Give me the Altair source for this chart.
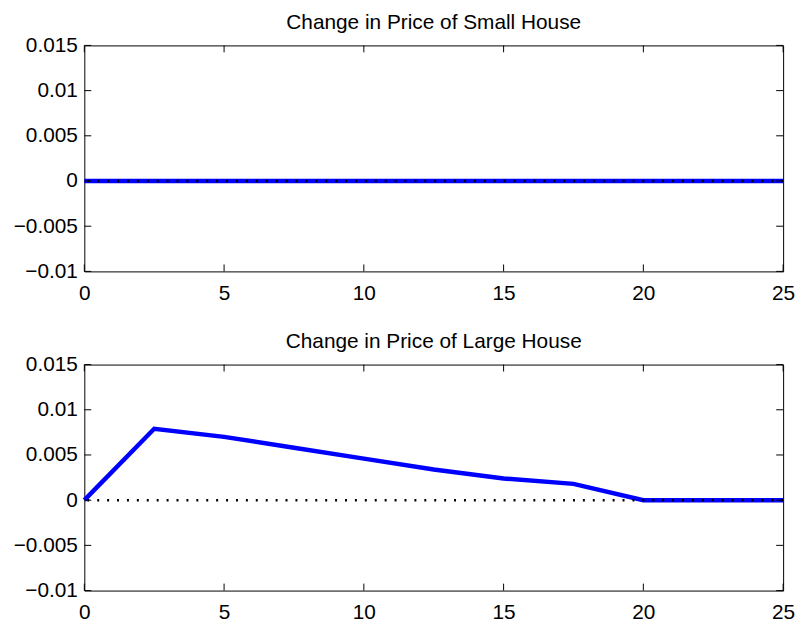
import altair as alt
import pandas as pd

# ---- data ----
x_vals = [0, 2.5, 5, 7.5, 10, 12.5, 15, 17.5, 20, 22.5, 25]
small_house = [0, 0, 0, 0, 0, 0, 0, 0, 0, 0, 0]
large_house = [0, 0.0079, 0.0070, 0.0058, 0.0046, 0.0034, 0.0024, 0.0018, 0, 0, 0]
titles = ["Change in Price of Small House", "Change in Price of Large House"]
x_ticks = [0, 5, 10, 15, 20, 25]
y_ticks = [-0.01, -0.005, 0, 0.005, 0.01, 0.015]
zero_line = [0]

W, H = 705, 228
FONT = "Liberation Sans"
TICK = 7

x_scale = alt.Scale(domain=[0, 25], nice=False, zero=False)
y_scale = alt.Scale(domain=[-0.01, 0.015], nice=False, zero=False)


def panel(values, title):
    df = pd.DataFrame({"x": x_vals, "y": values})
    line = alt.Chart(df).mark_line(color="#0000ff", strokeWidth=4.5, clip=False).encode(
        x=alt.X("x:Q", scale=x_scale,
                axis=alt.Axis(values=x_ticks, title=None, ticks=False, grid=False, domain=False,
                              labelPadding=11, labelFont=FONT, labelFontSize=21,
                              labelColor="black", labelFlush=False, format="d")),
        y=alt.Y("y:Q", scale=y_scale,
                axis=alt.Axis(values=y_ticks, title=None, ticks=False, grid=False, domain=False,
                              labelPadding=7, labelFont=FONT, labelFontSize=21,
                              labelColor="black", labelFlush=False, format=".2~g")),
    )
    zero = alt.Chart(pd.DataFrame({"y": zero_line})).mark_rule(
        color="black", strokeWidth=2.5, strokeDash=[2, 8]
    ).encode(y=alt.Y("y:Q", scale=y_scale))

    ydf = pd.DataFrame({"y": y_ticks})
    xdf = pd.DataFrame({"x": x_ticks})
    yl = alt.Chart(ydf).mark_rule(color="black", strokeWidth=1).encode(
        y=alt.Y("y:Q", scale=y_scale), x=alt.value(0), x2=alt.value(TICK))
    yr = alt.Chart(ydf).mark_rule(color="black", strokeWidth=1).encode(
        y=alt.Y("y:Q", scale=y_scale), x=alt.value(W - TICK), x2=alt.value(W))
    xb = alt.Chart(xdf).mark_rule(color="black", strokeWidth=1).encode(
        x=alt.X("x:Q", scale=x_scale), y=alt.value(H), y2=alt.value(H - TICK))
    xt = alt.Chart(xdf).mark_rule(color="black", strokeWidth=1).encode(
        x=alt.X("x:Q", scale=x_scale), y=alt.value(0), y2=alt.value(TICK))

    return alt.layer(line, zero, yl, yr, xb, xt).properties(
        width=W, height=H,
        title=alt.TitleParams(title, font=FONT, fontSize=21, fontWeight="normal",
                              color="black", anchor="middle", frame="group", offset=2),
    )


chart = alt.vconcat(
    panel(small_house, titles[0]),
    panel(large_house, titles[1]),
    spacing=26,
).properties(
    padding={"left": 4, "top": 0, "right": 0, "bottom": 0},
    background="white",
).configure_view(
    stroke="black", strokeWidth=1
)

chart.save("out.html", embed_options={"renderer": "svg", "actions": False})
